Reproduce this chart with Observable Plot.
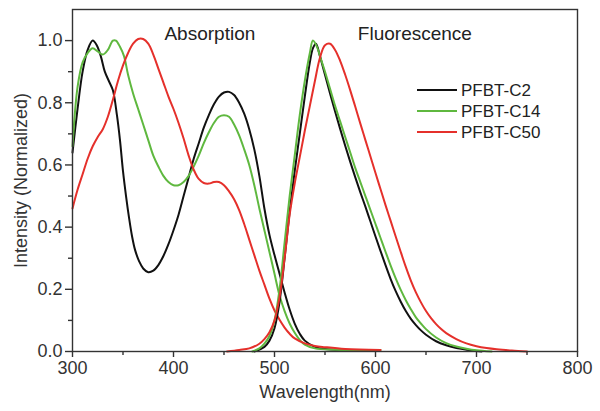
<!DOCTYPE html>
<html><head><meta charset="utf-8">
<script src="https://cdn.jsdelivr.net/npm/d3@7"></script>
<script src="https://cdn.jsdelivr.net/npm/@observablehq/plot@0.6"></script>
<style>body{margin:0;background:#fff;} #chart svg{display:block;}</style>
</head><body><div id="chart"></div>
<script>
const seriesNames = ["PFBT-C2", "PFBT-C14", "PFBT-C50"];
const seriesColors = ["#111111", "#5fb83f", "#e5302b"];
const xTicks = [300, 400, 500, 600, 700, 800];
const xMinorTicks = [350, 450, 550, 650, 750];
const yTicks = [0, 0.2, 0.4, 0.6, 0.8, 1.0];
const yMinorTicks = [0.1, 0.3, 0.5, 0.7, 0.9];
const sectionLabels = ["Absorption", "Fluorescence"];

// [wavelength nm, normalized intensity]
const absC2 = [[300,0.64],[305,0.78],[310,0.9],[315,0.97],[320,1.0],[324,0.985],[328,0.95],[332,0.9],[336,0.87],[340,0.84],[344,0.76],[347,0.68],[350,0.58],[353,0.5],[356,0.43],[359,0.37],[362,0.326],[366,0.29],[370,0.267],[375,0.255],[380,0.26],[385,0.278],[390,0.307],[395,0.345],[400,0.39],[405,0.44],[410,0.5],[415,0.56],[420,0.62],[425,0.67],[430,0.72],[435,0.76],[440,0.795],[445,0.82],[450,0.833],[455,0.835],[460,0.825],[465,0.8],[470,0.765],[475,0.715],[480,0.65],[485,0.565],[490,0.46],[495,0.375],[500,0.31],[505,0.25],[510,0.19],[515,0.135],[520,0.09],[525,0.057],[530,0.035],[540,0.015],[550,0.008],[570,0.005],[600,0.004]];
const absC14 = [[300,0.66],[305,0.85],[310,0.93],[315,0.96],[320,0.975],[325,0.965],[330,0.955],[335,0.97],[340,1.0],[343,1.0],[347,0.98],[351,0.95],[355,0.89],[360,0.83],[365,0.78],[370,0.73],[375,0.68],[380,0.63],[385,0.595],[390,0.565],[395,0.545],[400,0.535],[405,0.535],[410,0.545],[415,0.565],[420,0.595],[425,0.63],[430,0.67],[435,0.705],[440,0.735],[445,0.755],[450,0.76],[455,0.755],[460,0.73],[465,0.695],[470,0.65],[475,0.6],[480,0.535],[485,0.46],[490,0.39],[495,0.32],[500,0.25],[505,0.18],[510,0.13],[515,0.09],[520,0.06],[525,0.037],[530,0.022],[540,0.01],[560,0.006],[605,0.005]];
const absC50 = [[300,0.46],[305,0.52],[310,0.57],[315,0.62],[320,0.66],[325,0.69],[330,0.715],[335,0.755],[340,0.81],[345,0.87],[350,0.92],[355,0.96],[360,0.99],[365,1.005],[370,1.005],[375,0.99],[380,0.955],[385,0.91],[390,0.865],[395,0.82],[400,0.78],[405,0.735],[410,0.685],[415,0.63],[420,0.585],[425,0.555],[430,0.542],[435,0.54],[440,0.545],[445,0.545],[450,0.535],[455,0.515],[460,0.49],[465,0.455],[470,0.41],[475,0.36],[480,0.31],[485,0.26],[490,0.215],[495,0.17],[500,0.132],[505,0.102],[510,0.077],[515,0.057],[520,0.042],[530,0.026],[540,0.018],[550,0.014],[570,0.008],[605,0.005]];
const flC2 = [[480,0],[490,0.015],[495,0.035],[500,0.075],[505,0.16],[510,0.3],[515,0.45],[520,0.58],[525,0.7],[530,0.82],[535,0.93],[538,0.975],[541,0.99],[545,0.95],[550,0.89],[555,0.83],[560,0.772],[565,0.716],[570,0.662],[575,0.61],[580,0.56],[585,0.512],[590,0.466],[595,0.418],[600,0.37],[605,0.323],[610,0.277],[615,0.233],[620,0.194],[625,0.16],[630,0.13],[635,0.105],[640,0.085],[645,0.068],[650,0.054],[660,0.033],[670,0.02],[680,0.011],[690,0.006],[705,0]];
const flC14 = [[478,0],[485,0.01],[490,0.025],[495,0.05],[500,0.1],[505,0.2],[510,0.35],[515,0.5],[520,0.63],[525,0.76],[530,0.87],[535,0.96],[538,1.0],[542,0.98],[546,0.94],[550,0.9],[555,0.845],[560,0.79],[565,0.74],[570,0.69],[575,0.64],[580,0.59],[585,0.545],[590,0.5],[595,0.455],[600,0.41],[605,0.365],[610,0.32],[615,0.276],[620,0.235],[625,0.198],[630,0.165],[635,0.136],[640,0.11],[645,0.09],[650,0.072],[660,0.045],[670,0.027],[680,0.016],[690,0.009],[700,0.004],[715,0]];
const flC50 = [[453,0],[465,0.005],[475,0.01],[485,0.025],[490,0.04],[495,0.062],[500,0.1],[505,0.175],[510,0.3],[515,0.44],[520,0.54],[525,0.625],[530,0.71],[535,0.79],[540,0.87],[545,0.945],[550,0.985],[555,0.99],[560,0.97],[565,0.935],[570,0.89],[575,0.84],[580,0.787],[585,0.733],[590,0.68],[595,0.627],[600,0.574],[605,0.522],[610,0.47],[615,0.42],[620,0.37],[625,0.32],[630,0.272],[635,0.228],[640,0.19],[645,0.158],[650,0.13],[655,0.107],[660,0.088],[665,0.072],[670,0.059],[680,0.04],[690,0.026],[700,0.017],[710,0.011],[720,0.007],[735,0.003],[750,0]];

const curves = [
  {series: "PFBT-C2", part: "abs", pts: absC2},
  {series: "PFBT-C14", part: "abs", pts: absC14},
  {series: "PFBT-C50", part: "abs", pts: absC50},
  {series: "PFBT-C2", part: "fl", pts: flC2},
  {series: "PFBT-C14", part: "fl", pts: flC14},
  {series: "PFBT-C50", part: "fl", pts: flC50}
];
const rows = curves.flatMap(c => c.pts.map(([x, y]) => ({x, y, series: c.series, key: c.series + "-" + c.part})));

const FONT = "'Liberation Sans', Arial, sans-serif";
const AX = "#333";

const plot = Plot.plot({
  width: 600, height: 411,
  marginLeft: 72, marginRight: 23, marginTop: 9, marginBottom: 60,
  style: {fontFamily: FONT, fontSize: "18px", background: "#fff", color: AX},
  x: {domain: [300, 800]},
  y: {domain: [0, 1.1]},
  color: {domain: seriesNames, range: seriesColors},
  marks: [
    Plot.line(rows, {x: "x", y: "y", z: "key", stroke: "series", strokeWidth: 2, curve: "catmull-rom"}),
    Plot.frame({stroke: AX, strokeWidth: 1.4}),
    Plot.axisX({ticks: xTicks, tickSize: 6, tickPadding: 4, tickFormat: d => d, fontSize: 18, stroke: AX, strokeWidth: 1.4,
      label: "Wavelength(nm)", labelAnchor: "center", labelArrow: "none", labelOffset: 46}),
    Plot.axisX({ticks: xMinorTicks, tickSize: 4, text: null, label: null, stroke: AX, strokeWidth: 1.4}),
    Plot.axisY({ticks: yTicks, tickSize: 7, tickPadding: 3, tickFormat: d => d.toFixed(1), fontSize: 18, stroke: AX, strokeWidth: 1.4,
      label: "Intensity (Normalized)", labelAnchor: "center", labelArrow: "none", labelOffset: 58}),
    Plot.axisY({ticks: yMinorTicks, tickSize: 4, text: null, label: null, stroke: AX, strokeWidth: 1.4}),
    Plot.text([sectionLabels[0]], {x: 436, y: 1.02, text: d => d, fontSize: 19, fill: "#222"}),
    Plot.text([sectionLabels[1]], {x: 639, y: 1.02, text: d => d, fontSize: 19, fill: "#222"})
  ]
});

// Legend inside the plot area (top-right)
const svg = d3.select(plot);
const lg = svg.append("g").attr("font-family", FONT).attr("font-size", 17).attr("text-anchor", "start");
seriesNames.forEach((name, i) => {
  const yy = 90 + i * 21;
  lg.append("line").attr("x1", 417).attr("x2", 457).attr("y1", yy).attr("y2", yy)
    .attr("stroke", seriesColors[i]).attr("stroke-width", 2.2);
  lg.append("text").attr("x", 461).attr("y", yy).attr("dy", "0.35em").attr("fill", "#222").text(name);
});

document.getElementById("chart").appendChild(plot);
</script>
</body></html>
